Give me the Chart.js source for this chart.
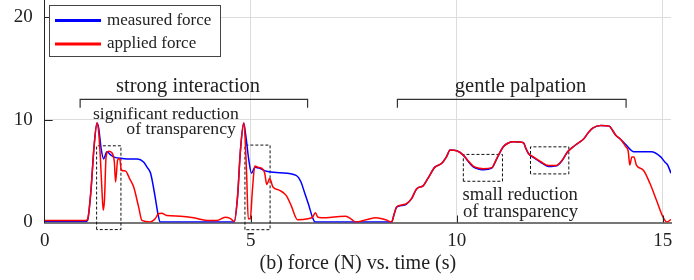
<!DOCTYPE html>
<html>
<head>
<meta charset="utf-8">
<script src="https://cdn.jsdelivr.net/npm/chart.js@4.4.0/dist/chart.umd.min.js"></script>
<style>
html, body { margin: 0; padding: 0; background: #fff; }
</style>
</head>
<body>
<canvas id="myChart" width="694" height="280"></canvas>
<script>
// time (s) / force (N)
const measuredT = [0, 1.0, 1.04, 1.12, 1.2, 1.27, 1.31, 1.37, 1.43, 1.51, 1.6, 1.7, 1.88, 2.1, 2.25, 2.4, 2.5, 2.57, 2.68, 2.75, 2.8,
	4.6, 4.68, 4.75, 4.83, 4.88, 4.95, 5.02, 5.1, 5.2, 5.38, 5.7, 6.1, 6.22, 6.3, 6.4, 6.5, 6.56,
	8.42, 8.48, 8.54, 8.66, 8.78, 8.9, 9.03, 9.19, 9.3, 9.47, 9.63, 9.75, 9.84, 10.0, 10.16, 10.27, 10.4, 10.55, 10.65, 10.85, 10.97,
	11.13, 11.25, 11.38, 11.62, 11.67, 11.74, 11.86, 12.03, 12.23, 12.38, 12.44, 12.56, 12.69, 12.8, 12.93, 13.09, 13.2, 13.3, 13.5,
	13.7, 13.78, 13.86, 13.98, 14.1, 14.3, 14.5, 14.72, 14.95, 15.05, 15.12, 15.2];
const measuredF = [0.1, 0.1, 0.2, 3, 7.5, 9.7, 9.2, 7.2, 6.2, 6.9, 6.6, 6.35, 6.25, 6.2, 6.2, 5.9, 5.3, 4.8, 2.5, 0.8, 0.05,
	0.05, 2.5, 7, 9.7, 8.5, 6.2, 4.8, 5.4, 5.3, 5.0, 4.85, 4.6, 3.95, 3, 1.8, 0.5, 0.05,
	0.05, 0.8, 1.5, 1.65, 1.8, 2.3, 3.3, 3.6, 4.3, 5.4, 5.75, 6.4, 7.06, 7.0, 6.57, 6.0, 5.42, 5.2, 5.15, 5.3, 6.2,
	7.38, 7.75, 7.87, 7.78, 7.3, 6.73, 6.34, 5.9, 5.45, 5.5, 5.55, 6.05, 6.9, 7.3, 7.7, 8.2, 8.8, 9.2, 9.45,
	9.4, 9.0, 8.5, 8.1, 7.6, 6.9, 6.9, 6.9, 6.4, 5.9, 5.6, 4.8];

const appliedT = [0, 1.0, 1.04, 1.12, 1.2, 1.27, 1.31, 1.35, 1.39, 1.42, 1.45, 1.49, 1.55, 1.63, 1.69, 1.72, 1.77, 1.82, 1.86, 1.96,
	2.06, 2.16, 2.28, 2.36, 2.56, 2.68, 2.76, 2.84, 2.96, 3.3, 3.62, 3.94, 4.18, 4.38, 4.5, 4.6,
	4.68, 4.75, 4.83, 4.86, 4.9, 4.94, 4.99, 5.04, 5.1, 5.17, 5.3, 5.34, 5.39, 5.46, 5.54, 5.7, 5.86, 5.98, 6.14, 6.39, 6.5, 6.57,
	6.63, 6.83, 7.15, 7.31, 7.43, 7.55, 7.8, 8.04, 8.28, 8.42,
	8.48, 8.54, 8.66, 8.78, 8.9, 9.03, 9.19, 9.3, 9.47, 9.63, 9.75, 9.84, 10.0, 10.16, 10.27, 10.4, 10.55, 10.65, 10.85, 10.97,
	11.13, 11.25, 11.38, 11.62, 11.67, 11.74, 11.86, 12.03, 12.23, 12.38, 12.44, 12.56, 12.69, 12.8, 12.93, 13.09, 13.2, 13.3, 13.5,
	13.7, 13.78, 13.86, 13.98, 14.1, 14.16, 14.2, 14.25, 14.3, 14.36, 14.53, 14.69, 14.85, 15.01, 15.1, 15.2];
const appliedF = [0.2, 0.2, 0.3, 3, 7.5, 9.7, 8.8, 6.4, 3.1, 1.2, 2.15, 6.4, 6.96, 6.8, 5.9, 3.95, 6.1, 6.24, 5.1, 5.03,
	4.28, 3.46, 1.5, 0.2, 0.05, 0.36, 0.85, 0.9, 0.69, 0.62, 0.46, 0.2, 0.2, 0.52, 0.4, 0.1,
	2.5, 7, 9.7, 8.5, 4.8, 0.36, 0.36, 3.1, 5.5, 5.4, 5.17, 4.8, 3.7, 4.28, 3.46, 3.14, 2.65, 1.67, 0.26, 0.36, 0.52, 0.95,
	0.52, 0.46, 0.59, 0.62, 0.36, 0.03, 0.26, 0.46, 0.26, 0.05,
	0.8, 1.5, 1.7, 1.85, 2.3, 3.3, 3.6, 4.3, 5.4, 5.75, 6.4, 7.06, 7.0, 6.57, 6.05, 5.5, 5.3, 5.25, 5.35, 6.24,
	7.38, 7.75, 7.87, 7.78, 7.3, 6.73, 6.4, 5.95, 5.55, 5.55, 5.6, 6.08, 6.9, 7.3, 7.7, 8.2, 8.8, 9.2, 9.45,
	9.4, 9.0, 8.5, 8.1, 7.4, 7.0, 5.6, 6.4, 6.4, 5.6, 5.1, 3.8, 2.15, 0.5, 0.05, 0.3];

const seriesNames = ['measured force', 'applied force'];
const xTicks = [0, 5, 10, 15];
const yTicks = [0, 10, 20];

// annotations (data units): [tStart, tEnd]
const bracketSpans = [[0.86, 6.38], [8.56, 14.11]];
const bracketLabels = ['strong interaction', 'gentle palpation'];
// dashed boxes: [t0, t1, fLow, fHigh]
const boxes = [[1.26, 1.85, -0.69, 7.48], [4.86, 5.47, -0.7, 7.55], [10.16, 11.11, 4.02, 6.64], [11.79, 12.72, 4.74, 7.38]];
const noteSignificant = ['significant reduction', 'of transparency'];
const noteSmall = ['small reduction', 'of transparency'];

const FONT = '"Liberation Serif", "DejaVu Serif", serif';
const textCol = '#222';

function pts(ts, fs) { return ts.map((t, i) => ({x: t, y: fs[i]})); }

let datasets = [
	{label: seriesNames[1], data: pts(appliedT, appliedF), borderColor: '#ff0000', borderWidth: 1.5, pointRadius: 0, cubicInterpolationMode: 'monotone'},
	{label: seriesNames[0], data: pts(measuredT, measuredF), borderColor: '#0000ff', borderWidth: 1.5, pointRadius: 0, cubicInterpolationMode: 'monotone'}
];
for (let b of bracketSpans) {
	datasets.push({data: [{x: b[0], y: 11.2}, {x: b[0], y: 12}, {x: b[1], y: 12}, {x: b[1], y: 11.2}],
		borderColor: '#333', borderWidth: 1.2, pointRadius: 0, tension: 0, clip: false});
}
for (let r of boxes) {
	datasets.push({data: [{x: r[0], y: r[2]}, {x: r[0], y: r[3]}, {x: r[1], y: r[3]}, {x: r[1], y: r[2]}, {x: r[0], y: r[2]}],
		borderColor: '#111', borderWidth: 1, borderDash: [3, 2], pointRadius: 0, tension: 0, clip: false});
}

const extras = {
	id: 'extras',
	afterDatasetsDraw(chart) {
		const ctx = chart.ctx, xs = chart.scales.x, ys = chart.scales.y, area = chart.chartArea;
		ctx.save();
		// inward tick marks
		ctx.strokeStyle = '#222';
		ctx.lineWidth = 1;
		for (let v of yTicks.slice(1)) {
			let y = Math.round(ys.getPixelForValue(v)) + 0.5;
			ctx.beginPath(); ctx.moveTo(area.left, y); ctx.lineTo(area.left + 8, y); ctx.stroke();
		}
		for (let v of xTicks.slice(1)) {
			let x = Math.round(xs.getPixelForValue(v)) + 0.5;
			ctx.beginPath(); ctx.moveTo(x, area.bottom); ctx.lineTo(x, area.bottom - 7); ctx.stroke();
		}
		// text notes
		ctx.fillStyle = textCol;
		ctx.textBaseline = 'middle';
		ctx.textAlign = 'center';
		ctx.font = '20.5px ' + FONT;
		bracketSpans.forEach((b, i) => {
			ctx.fillText(bracketLabels[i], xs.getPixelForValue(i === 0 ? 3.48 : 11.55), ys.getPixelForValue(13.3));
		});
		ctx.font = '17.7px ' + FONT;
		ctx.fillText(noteSignificant[0], xs.getPixelForValue(2.94), ys.getPixelForValue(10.5));
		ctx.fillText(noteSignificant[1], xs.getPixelForValue(3.31), ys.getPixelForValue(9.1));
		ctx.font = '18.6px ' + FONT;
		ctx.fillText(noteSmall[0], xs.getPixelForValue(11.54), ys.getPixelForValue(2.63));
		ctx.fillText(noteSmall[1], xs.getPixelForValue(11.55), ys.getPixelForValue(1.0));
		// legend
		ctx.fillStyle = '#fff';
		ctx.fillRect(49.5, 5.5, 171, 51);
		ctx.strokeStyle = '#444';
		ctx.strokeRect(49.5, 5.5, 171, 51);
		const legendItems = [[seriesNames[0], '#0000ff', 20.5], [seriesNames[1], '#ff0000', 44]];
		ctx.textAlign = 'left';
		ctx.font = '17px ' + FONT;
		for (let it of legendItems) {
			ctx.strokeStyle = it[1];
			ctx.lineWidth = 3;
			ctx.beginPath(); ctx.moveTo(55, it[2]); ctx.lineTo(101, it[2]); ctx.stroke();
			ctx.fillStyle = textCol;
			ctx.fillText(it[0], 107, it[2]);
		}
		ctx.restore();
	}
};

function noPad(s) {
	s.paddingTop = 0; s.paddingBottom = 0; s.paddingLeft = 0; s.paddingRight = 0;
}

new Chart(document.getElementById('myChart'), {
	type: 'line',
	data: {datasets: datasets},
	options: {
		responsive: false,
		animation: false,
		layout: {padding: {top: 0, right: 23, left: 0, bottom: 0}},
		plugins: {legend: {display: false}, tooltip: {enabled: false}},
		scales: {
			x: {
				type: 'linear', min: 0, max: 15.2,
				afterBuildTicks: s => { s.ticks = xTicks.map(v => ({value: v})); },
				afterFit: s => { s.height = 57.5; noPad(s); },
				grid: {color: '#dcdcdc', drawTicks: false},
				border: {color: '#777', width: 2},
				ticks: {color: textCol, padding: 7, font: {family: FONT, size: 19}},
				title: {display: true, text: '(b) force (N) vs. time (s)', color: textCol, font: {family: FONT, size: 20}, padding: {top: 0, bottom: 4}}
			},
			y: {
				type: 'linear', min: 0, max: 21.7,
				afterBuildTicks: s => { s.ticks = yTicks.map(v => ({value: v})); },
				afterFit: s => { s.width = 44.7; noPad(s); },
				grid: {color: '#dcdcdc', drawTicks: false},
				border: {color: '#222', width: 1},
				ticks: {color: textCol, padding: 12, font: {family: FONT, size: 19}}
			}
		}
	},
	plugins: [extras]
});
</script>
</body>
</html>
